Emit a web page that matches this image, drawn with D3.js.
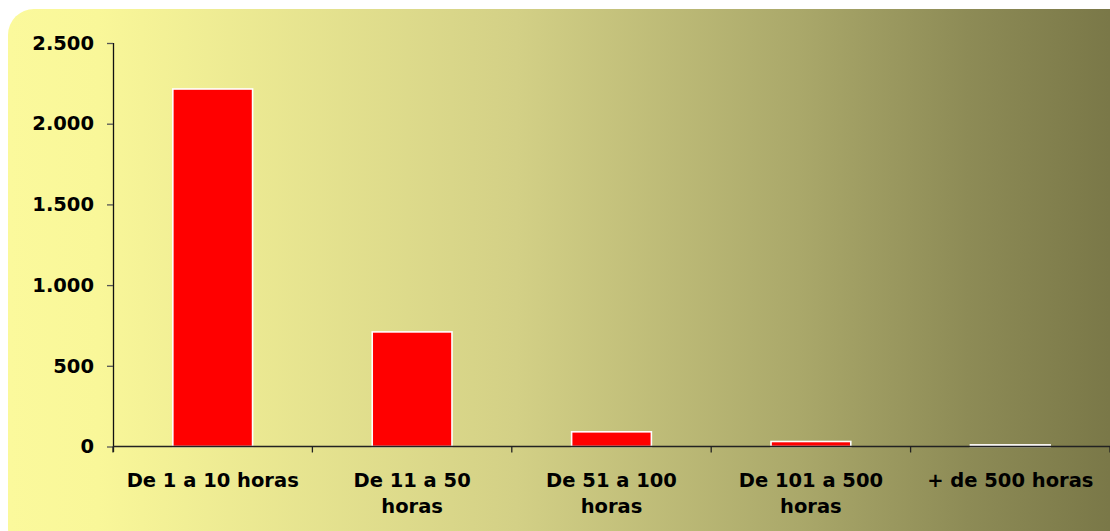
<!DOCTYPE html>
<html><head><meta charset="utf-8">
<script src="https://cdn.jsdelivr.net/npm/d3@7"></script>
<style>html,body{margin:0;padding:0;background:#fff;}svg{display:block;}</style>
</head><body>
<svg id="c" width="1110" height="531"></svg>
<script>
const categories = [["De 1 a 10 horas"], ["De 11 a 50", "horas"], ["De 51 a 100", "horas"], ["De 101 a 500", "horas"], ["+ de 500 horas"]];
const values = [2215, 710, 91, 31, 10];
const yTicks = [0, 500, 1000, 1500, 2000, 2500];
const fmt = v => d3.format(",")(v).replace(/,/g, ".");

const svg = d3.select("#c");
const defs = svg.append("defs");
const g = defs.append("linearGradient").attr("id", "bg").attr("x1", "0").attr("x2", "1").attr("y1", "0").attr("y2", "0");
[[0, "#fbf99c"], [0.08, "#f9f799"], [0.45, "#d3d086"], [0.7, "#aaa86a"], [0.85, "#8d8b56"], [1, "#767445"]]
  .forEach(([o, c]) => g.append("stop").attr("offset", o).attr("stop-color", c));

svg.append("rect").attr("x", 8).attr("y", 9).attr("width", 1130).attr("height", 545)
  .attr("rx", 26).attr("ry", 26).attr("fill", "url(#bg)");

const x = d3.scaleBand().domain(d3.range(categories.length)).range([113, 1110]).paddingInner(0.6).paddingOuter(0.3);
const xb = d3.scaleBand().domain(d3.range(categories.length)).range([113, 1110]);
const y = d3.scaleLinear().domain([0, 2500]).range([446.5, 43]);

// bars
svg.append("g").selectAll("rect").data(values).join("rect")
  .attr("x", (d, i) => x(i)).attr("width", x.bandwidth())
  .attr("y", d => y(d)).attr("height", d => y(0) - y(d))
  .attr("fill", "#ff0000").attr("stroke", "#ffffff").attr("stroke-width", 1.6);

const font = "'DejaVu Sans', Verdana, sans-serif";
// y axis
const ya = svg.append("g").attr("transform", "translate(113,0)")
  .call(d3.axisLeft(y).tickValues(yTicks).tickFormat(fmt).tickSize(6).tickPadding(13));
ya.select(".domain").attr("stroke", "#111").attr("stroke-width", 1.3).attr("d", "M0.5,43V452");
ya.selectAll(".tick line").attr("stroke", "#555").attr("stroke-width", 1.3);
ya.selectAll("text").attr("font-family", font).attr("font-weight", "bold").attr("font-size", "19.5px").attr("fill", "#000");

// x axis
const xa = svg.append("g").attr("transform", "translate(0,446.5)");
xa.append("line").attr("x1", 113).attr("x2", 1110).attr("y1", 0).attr("y2", 0).attr("stroke", "#222").attr("stroke-width", 1.6);
xa.selectAll("line.t").data(d3.range(categories.length + 1)).join("line").attr("class", "t")
  .attr("x1", i => i < categories.length ? xb(i) : 1110).attr("x2", i => i < categories.length ? xb(i) : 1110)
  .attr("y1", 0).attr("y2", 6).attr("stroke", "#222").attr("stroke-width", 1.3);
xa.selectAll("text").data(categories).join("text")
  .attr("x", (d, i) => xb(i) + xb.bandwidth() / 2).attr("y", 40)
  .attr("text-anchor", "middle").attr("font-family", font).attr("font-weight", "bold").attr("font-size", "19.5px").attr("fill", "#000")
  .each(function(d) {
    d3.select(this).selectAll("tspan").data(d).join("tspan")
      .attr("x", d3.select(this).attr("x")).attr("dy", (t, j) => j === 0 ? 0 : 26).text(t => t);
  });
</script>
</body></html>
